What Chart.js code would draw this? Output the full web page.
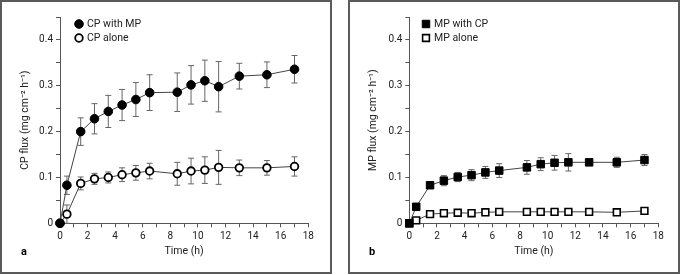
<!DOCTYPE html>
<html>
<head>
<meta charset="utf-8">
<script src="https://cdn.jsdelivr.net/npm/chart.js@4.4.0/dist/chart.umd.min.js"></script>
<style>
body { margin: 0; background: #fff; width: 681px; height: 275px; overflow: hidden; position: relative; }
.panel { position: absolute; top: 0; width: 332px; height: 274px; box-sizing: border-box; border: 2px solid #5a5a5a; background: #fff; }
.panel canvas { display: block; }
</style>
</head>
<body>
<div class="panel" style="left:0"><canvas id="chartA" width="328" height="270"></canvas></div>
<div class="panel" style="left:348px"><canvas id="chartB" width="328" height="270"></canvas></div>
<script>
// sampling times (h)
const times = [0, 0.5, 1.5, 2.5, 3.5, 4.5, 5.5, 6.5, 8.5, 9.5, 10.5, 11.5, 13, 15, 17];

// panel a: CP flux
const cpWithMp    = [0, 0.083, 0.200, 0.228, 0.244, 0.258, 0.270, 0.285, 0.286, 0.302, 0.311, 0.298, 0.321, 0.324, 0.336];
const cpWithMpErr = [0, 0.020, 0.030, 0.033, 0.035, 0.034, 0.037, 0.039, 0.042, 0.042, 0.045, 0.055, 0.028, 0.028, 0.030];
const cpAlone     = [0, 0.020, 0.087, 0.097, 0.100, 0.106, 0.110, 0.114, 0.108, 0.114, 0.116, 0.122, 0.121, 0.121, 0.124];
const cpAloneErr  = [0, 0.020, 0.014, 0.012, 0.012, 0.015, 0.016, 0.017, 0.025, 0.028, 0.029, 0.037, 0.017, 0.016, 0.021];

// panel b: MP flux
const mpWithCp    = [0, 0.036, 0.083, 0.093, 0.101, 0.105, 0.111, 0.115, 0.122, 0.129, 0.132, 0.133, 0.133, 0.133, 0.138];
const mpWithCpErr = [0, 0.004, 0.007, 0.011, 0.010, 0.012, 0.013, 0.015, 0.015, 0.014, 0.016, 0.019, 0.006, 0.011, 0.012];
const mpAlone     = [0, 0.0065, 0.020, 0.022, 0.023, 0.022, 0.024, 0.025, 0.025, 0.025, 0.025, 0.025, 0.025, 0.024, 0.027];
const mpAloneErr  = [0, 0.002, 0.003, 0.003, 0.003, 0.003, 0.003, 0.003, 0.003, 0.003, 0.003, 0.003, 0.003, 0.003, 0.003];

const xTicks = [0, 2, 4, 6, 8, 10, 12, 14, 16, 18];
const yTicks = [0, 0.1, 0.2, 0.3, 0.4];

const FONT = 'Roboto, "Liberation Sans", sans-serif';
const AXIS = '#555';

function pts(vals) {
  return times.map((t, i) => ({ x: t, y: vals[i] }));
}

function series(label, vals, errs, style, filled, radius, bw) {
  return {
    label: label,
    data: pts(vals),
    errors: errs,
    borderColor: '#444',
    borderWidth: 1,
    tension: 0,
    clip: false,
    pointStyle: style,
    pointRadius: radius,
    pointBorderWidth: bw,
    pointBorderColor: '#000',
    pointBackgroundColor: filled ? '#000' : '#fff'
  };
}

const errorBars = {
  id: 'errorBars',
  beforeDatasetsDraw(chart) {
    const ctx = chart.ctx, xs = chart.scales.x, ys = chart.scales.y;
    ctx.save();
    ctx.strokeStyle = '#666';
    ctx.lineWidth = 1;
    chart.data.datasets.forEach(ds => {
      ds.data.forEach((p, i) => {
        const e = ds.errors[i];
        if (!e) return;
        const x = xs.getPixelForValue(p.x);
        const y1 = ys.getPixelForValue(p.y + e);
        const y2 = ys.getPixelForValue(p.y - e);
        ctx.beginPath();
        ctx.moveTo(x, y1); ctx.lineTo(x, y2);
        ctx.moveTo(x - 3, y1); ctx.lineTo(x + 3, y1);
        ctx.moveTo(x - 3, y2); ctx.lineTo(x + 3, y2);
        ctx.stroke();
      });
    });
    ctx.restore();
  }
};

function annotations(letter, lx, ly) {
  return {
    id: 'annot',
    afterDraw(chart) {
      const ctx = chart.ctx;
      ctx.save();
      chart.data.datasets.forEach((ds, i) => {
        const y = ly + i * 14;
        ctx.fillStyle = ds.pointBackgroundColor;
        ctx.strokeStyle = ds.pointBorderColor;
        ctx.lineWidth = ds.pointBorderWidth;
        Chart.helpers.drawPoint(ctx, { pointStyle: ds.pointStyle, radius: ds.pointRadius, borderWidth: ds.pointBorderWidth, rotation: 0 }, lx, y);
        ctx.fillStyle = '#222';
        ctx.font = '10.5px ' + FONT;
        ctx.textBaseline = 'middle';
        ctx.textAlign = 'left';
        ctx.fillText(ds.label, lx + 8, y + 0.5);
      });
      ctx.fillStyle = '#000';
      ctx.font = 'bold 11px ' + FONT;
      ctx.textBaseline = 'middle';
      ctx.textAlign = 'center';
      ctx.fillText(letter, 22, 250);
      ctx.restore();
    }
  };
}

function makeChart(id, datasets, yTitle, letter, yWidth, rightPad, legendX) {
  new Chart(document.getElementById(id), {
    type: 'line',
    data: { datasets: datasets },
    plugins: [errorBars, annotations(letter, legendX, 22)],
    options: {
      responsive: false,
      animation: false,
      devicePixelRatio: 1,
      layout: { padding: { left: 0, right: rightPad, top: 15, bottom: 0 } },
      plugins: { legend: { display: false }, tooltip: { enabled: false } },
      scales: {
        x: {
          type: 'linear',
          min: 0, max: 18,
          afterFit(s) { s.height = 48.7; },
          grid: { drawOnChartArea: false, drawTicks: true, tickLength: 4, color: AXIS },
          border: { display: true, color: AXIS, width: 1 },
          ticks: {
            stepSize: 1, autoSkip: false, maxRotation: 0, padding: 3,
            color: '#222', font: { family: FONT, size: 10 },
            callback: v => xTicks.includes(v) ? String(v) : ''
          },
          title: { display: true, text: 'Time (h)', color: '#222', font: { family: FONT, size: 10.5 }, padding: { top: 0, bottom: 14 } }
        },
        y: {
          type: 'linear',
          min: 0, max: 0.45,
          afterFit(s) { s.width = yWidth; },
          grid: { drawOnChartArea: false, drawTicks: true, tickLength: 4, color: AXIS },
          border: { display: true, color: AXIS, width: 1 },
          ticks: {
            stepSize: 0.05, autoSkip: false, padding: 3,
            color: '#222', font: { family: FONT, size: 10 },
            callback: v => {
              const r = Math.round(v * 100) / 100;
              const t = yTicks.find(k => Math.abs(k - r) < 1e-9);
              return t === undefined ? '' : (t === 0 ? '0' : t.toFixed(1));
            }
          },
          title: { display: true, text: yTitle, color: '#222', font: { family: FONT, size: 10.5 }, padding: { top: 17, bottom: 0 } }
        }
      }
    }
  });
}

makeChart('chartA', [
  series('CP with MP', cpWithMp, cpWithMpErr, 'circle', true, 4.3, 1),
  series('CP alone', cpAlone, cpAloneErr, 'circle', false, 3.8, 1.8)
], 'CP flux (mg cm\u207B\u00B2 h\u207B\u00B9)', 'a', 58, 21.7, 77);

makeChart('chartB', [
  series('MP with CP', mpWithCp, mpWithCpErr, 'rect', true, 5.3, 1),
  series('MP alone', mpAlone, mpAloneErr, 'rect', false, 4.8, 1.6)
], 'MP flux (mg cm\u207B\u00B2 h\u207B\u00B9)', 'b', 59.3, 19.7, 76);
</script>
</body>
</html>
